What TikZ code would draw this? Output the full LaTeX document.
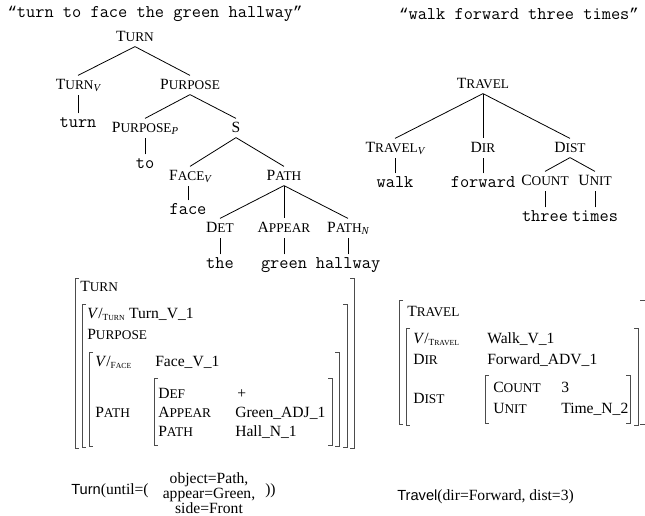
\documentclass[tikz,border=0pt]{standalone}
\usepackage{fontspec}
\setmainfont{Liberation Serif}
\newfontfamily\sansf{Liberation Sans}
\newfontfamily\quotef{Liberation Mono}
\newcommand\monof{\ttfamily}
\newcommand\qq[1]{{\quotef\fontsize{11.75}{13}\selectfont #1}}
\newcommand\SC[2]{#1{\fontsize{10}{11}\selectfont #2}}
\newcommand\subit[1]{\raisebox{-0.35ex}{\fontsize{8}{8}\selectfont\itshape #1}}
\newcommand\subsc[2]{\raisebox{-0.3ex}{\fontsize{7}{8}\selectfont #1{\fontsize{5.8}{7}\selectfont #2}}}
\newcommand\avmL[3]{\draw[brk] (#1,#2) ++(4,0) -- ++(-4,0) -- (#1,#3) -- ++(4,0);}
\newcommand\avmR[3]{\draw[brk] (#1,#2) ++(-4,0) -- ++(4,0) -- (#1,#3) -- ++(-4,0);}
\tikzset{
  lab/.style={font=\fontsize{11.7}{13}\selectfont, inner sep=2pt, text height=8pt, text depth=2pt},
  leaf/.style={font=\monof\fontsize{13.4}{15}\selectfont, inner sep=2pt, text height=8pt, text depth=2pt},
  title/.style={font=\monof\fontsize{13.4}{15}\selectfont, inner sep=0pt},
  branch/.style={line width=0.6pt},
  avm/.style={font=\fontsize{11.7}{13}\selectfont, inner sep=0pt, anchor=base west},
  brk/.style={line width=0.55pt, draw=black!70},
}
\begin{document}
\begin{tikzpicture}[x=0.75pt,y=-0.75pt]
\useasboundingbox (0,0) rectangle (645,515);
% ---------- left tree ----------
\node[title] (t1) at (155,14) {\qq{“}turn to face the green hallway\qq{”}};
\node[lab] (turn) at (135,37) {\SC{T}{URN}};
\node[lab] (turnv) at (78,85) {\SC{T}{URN}\subit{V}};
\node[lab] (purpose) at (190,85) {\SC{P}{URPOSE}};
\node[leaf] (lturn) at (78,123) {turn};
\node[lab] (purpp) at (145,128) {\SC{P}{URPOSE}\subit{P}};
\node[lab] (s) at (236,128) {S};
\node[leaf] (lto) at (145,164) {to};
\node[lab] (facev) at (190,176) {\SC{F}{ACE}\subit{V}};
\node[lab] (path) at (284,176) {\SC{P}{ATH}};
\node[leaf] (lface) at (188,210) {face};
\node[lab] (det) at (220,228) {\SC{D}{ET}};
\node[lab] (appear) at (284,228) {\SC{A}{PPEAR}};
\node[lab] (pathn) at (348,228) {\SC{P}{ATH}\subit{N}};
\node[leaf] (lthe) at (220,264) {the};
\node[leaf] (lgreen) at (284,264) {green};
\node[leaf] (lhall) at (348,264) {hallway};
\draw[branch] (turn.south) -- (turnv.north);
\draw[branch] (turn.south) -- (purpose.north);
\draw[branch] (lturn.north) -- (lturn.north |- turnv.south);
\draw[branch] (purpose.south) -- (purpp.north);
\draw[branch] (purpose.south) -- (s.north);
\draw[branch] (lto.north) -- (lto.north |- purpp.south);
\draw[branch] (s.south) -- (facev.north);
\draw[branch] (s.south) -- (path.north);
\draw[branch] (lface.north) -- (lface.north |- facev.south);
\draw[branch] (path.south) -- (det.north);
\draw[branch] (path.south) -- (appear.north);
\draw[branch] (path.south) -- (pathn.north);
\draw[branch] (lthe.north) -- (lthe.north |- det.south);
\draw[branch] (lgreen.north) -- (lgreen.north |- appear.south);
\draw[branch] (lhall.north) -- (lhall.north |- pathn.south);
% ---------- right tree ----------
\node[title] (t2) at (519,14) {\qq{“}walk forward three times\qq{”}};
\node[lab] (travel) at (483,84) {\SC{T}{RAVEL}};
\node[lab] (travelv) at (395,148) {\SC{T}{RAVEL}\subit{V}};
\node[lab] (dir) at (483,148) {\SC{D}{IR}};
\node[lab] (dist) at (570,148) {\SC{D}{IST}};
\node[leaf] (lwalk) at (395,183) {walk};
\node[leaf] (lforward) at (483,183) {forward};
\node[lab] (count) at (545,181) {\SC{C}{OUNT}};
\node[lab] (unit) at (595,181) {\SC{U}{NIT}};
\node[leaf] (lthree) at (545,217) {three};
\node[leaf] (ltimes) at (595,217) {times};
\draw[branch] (travel.south) -- (travelv.north);
\draw[branch] (travel.south) -- (dir.north);
\draw[branch] (travel.south) -- (dist.north);
\draw[branch] (lwalk.north) -- (lwalk.north |- travelv.south);
\draw[branch] (lforward.north) -- (lforward.north |- dir.south);
\draw[branch] (dist.south) -- (count.north);
\draw[branch] (dist.south) -- (unit.north);
\draw[branch] (lthree.north) -- (lthree.north |- count.south);
\draw[branch] (ltimes.north) -- (ltimes.north |- unit.south);
% ---------- left AVM ----------
\avmL{75}{278}{448} \avmR{354}{278}{448}
\avmL{82}{304}{447} \avmR{347}{304}{447}
\avmL{89}{352}{446} \avmR{339}{352}{446}
\avmL{154}{378}{445} \avmR{332}{378}{445}
\node[avm] (a1) at (80,291) {\SC{T}{URN}};
\node[avm] (a2) at (87,318) {\textit{V}/\subsc{T}{URN}};
\node[avm] (a3) at ([xshift=3pt]a2.base east) {Turn\_V\_1};
\node[avm] (a4) at (87,339) {\SC{P}{URPOSE}};
\node[avm] (a5) at (95,366) {\textit{V}/\subsc{F}{ACE}};
\node[avm] (a6) at (155,366) {Face\_V\_1};
\node[avm] (a7) at (95,417) {\SC{P}{ATH}};
\node[avm] (a8) at (158,398) {\SC{D}{EF}};
\node[avm] (a9) at (237,398) {+};
\node[avm] (a10) at (158,417) {\SC{A}{PPEAR}};
\node[avm] (a11) at (235,417) {Green\_ADJ\_1};
\node[avm] (a12) at (158,436) {\SC{P}{ATH}};
\node[avm] (a13) at (235,436) {Hall\_N\_1};
% ---------- right AVM ----------
\avmL{399}{300}{424}
\draw[brk] (640,300) -- (647,300) -- (647,424) -- (640,424);
\avmL{406}{328}{425} \avmR{638}{328}{425}
\avmL{485}{375}{423} \avmR{630}{375}{423}
\node[avm] (b1) at (407,316) {\SC{T}{RAVEL}};
\node[avm] (b2) at (413,343) {\textit{V}/\subsc{T}{RAVEL}};
\node[avm] (b3) at (487,343) {Walk\_V\_1};
\node[avm] (b4) at (413,364) {\SC{D}{IR}};
\node[avm] (b5) at (487,364) {Forward\_ADV\_1};
\node[avm] (b6) at (413,403) {\SC{D}{IST}};
\node[avm] (b7) at (493,392) {\SC{C}{OUNT}};
\node[avm] (b8) at (561,392) {3};
\node[avm] (b9) at (493,413) {\SC{U}{NIT}};
\node[avm] (b10) at (561,413) {Time\_N\_2};
% ---------- formulas ----------
\node[avm] (f1) at (71,494) {{\sansf\fontsize{11}{13}\selectfont Turn}(until=(};
\node[font=\fontsize{11.7}{11}\selectfont, align=center, inner sep=0pt] (f2) at (209,493) {object=Path,\\appear=Green,\\side=Front};
\node[avm] (f3) at (265,494) {))};
\node[avm] (f4) at (397,500) {{\sansf\fontsize{11}{13}\selectfont Travel}(dir=Forward, dist=3)};
\end{tikzpicture}
\end{document}
